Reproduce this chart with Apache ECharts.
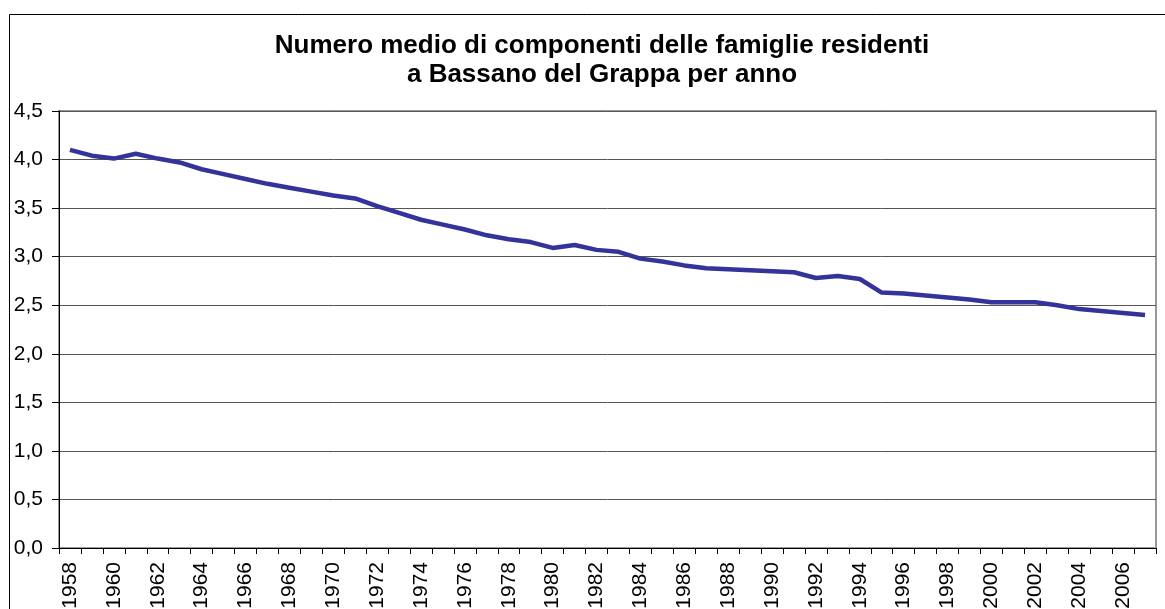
<!DOCTYPE html>
<html>
<head>
<meta charset="utf-8">
<script src="https://cdn.jsdelivr.net/npm/echarts@6/dist/echarts.min.js"></script>
<style>
html,body{margin:0;padding:0;background:#fff;}
#chart{width:1165px;height:609px;}
</style>
</head>
<body>
<div id="chart"></div>
<script>
const years = [];
for (let y = 1958; y <= 2007; y++) years.push(String(y));

const components = [
  4.10, 4.04, 4.01, 4.06, 4.01, 3.97, 3.90, 3.85, 3.80, 3.75,
  3.71, 3.67, 3.63, 3.60, 3.52, 3.45, 3.38, 3.33, 3.28, 3.22,
  3.18, 3.15, 3.09, 3.12, 3.07, 3.05, 2.98, 2.95, 2.91, 2.88,
  2.87, 2.86, 2.85, 2.84, 2.78, 2.80, 2.77, 2.63, 2.62, 2.60,
  2.58, 2.56, 2.53, 2.53, 2.53, 2.50, 2.46, 2.44, 2.42, 2.40
];

const titleText = 'Numero medio di componenti delle famiglie residenti\na Bassano del Grappa per anno';
const yTicks = { min: 0, max: 4.5, interval: 0.5 };

const FONT = '"Liberation Sans", Arial, sans-serif';
const chart = echarts.init(document.getElementById('chart'), null, { renderer: 'canvas' });

chart.setOption({
  backgroundColor: '#ffffff',
  animation: false,
  title: {
    text: titleText,
    left: 597,
    top: 26,
    textAlign: 'center',
    textStyle: {
      fontFamily: FONT,
      fontWeight: 'bold',
      fontSize: 26,
      lineHeight: 29,
      color: '#000'
    }
  },
  graphic: [{
    type: 'rect',
    shape: { x: 9.5, y: 14.5, width: 1170, height: 700 },
    style: { fill: 'none', stroke: '#000', lineWidth: 1 },
    silent: true,
    z: 100
  }],
  grid: {
    left: 59,
    top: 111,
    right: 9,
    bottom: 61,
    show: true,
    borderColor: '#999',
    borderWidth: 2,
    backgroundColor: '#fff',
    containLabel: false,
    outerBoundsMode: 'none'
  },
  xAxis: {
    type: 'category',
    data: years,
    boundaryGap: true,
    axisLine: { show: true, lineStyle: { color: '#000', width: 1 } },
    axisTick: { show: true, interval: 0, length: 6, lineStyle: { color: '#000' } },
    axisLabel: {
      interval: 1,
      rotate: 90,
      margin: 14,
      fontFamily: FONT,
      fontSize: 21,
      color: '#000'
    },
    splitLine: { show: false }
  },
  yAxis: {
    type: 'value',
    min: yTicks.min,
    max: yTicks.max,
    interval: yTicks.interval,
    axisLine: { show: true, lineStyle: { color: '#000', width: 1 } },
    axisTick: { show: true, inside: false, length: 7, lineStyle: { color: '#000' } },
    axisLabel: {
      margin: 16,
      fontFamily: FONT,
      fontSize: 21,
      color: '#000',
      formatter: v => v.toFixed(1).replace('.', ',')
    },
    splitLine: { show: true, lineStyle: { color: '#555', width: 1 } }
  },
  series: [{
    type: 'line',
    data: components,
    showSymbol: false,
    symbol: 'none',
    smooth: false,
    lineStyle: { color: '#333399', width: 4.5 },
    itemStyle: { color: '#333399' }
  }]
});
</script>
</body>
</html>
